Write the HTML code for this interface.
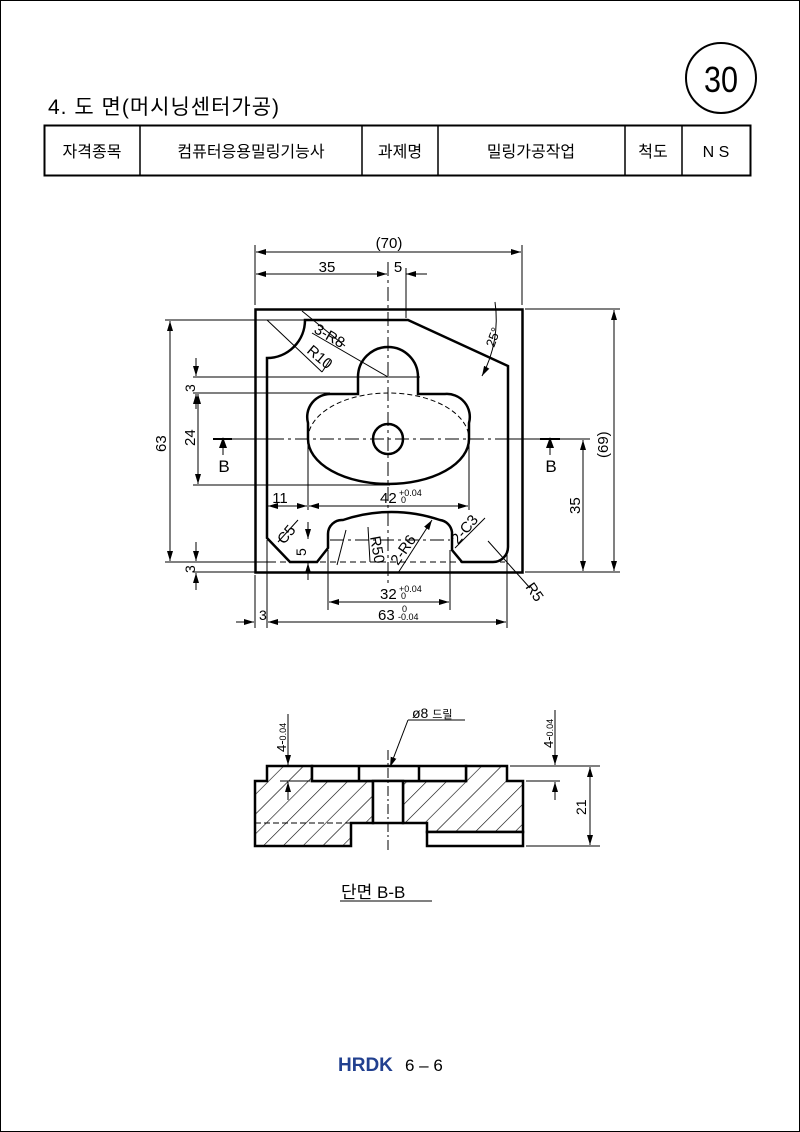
<!DOCTYPE html>
<html><head><meta charset="utf-8"><style>
html,body{margin:0;padding:0;background:#fff}
svg{display:block}
text{font-family:"Liberation Sans","Noto Sans CJK KR",sans-serif;fill:#000}
</style></head><body>
<svg width="800" height="1132" viewBox="0 0 800 1132" xmlns="http://www.w3.org/2000/svg">
<defs>
<pattern id="h" patternUnits="userSpaceOnUse" width="14" height="14" patternTransform="rotate(45)">
<line x1="0" y1="0" x2="0" y2="14" stroke="#000" stroke-width="1.2"/></pattern>
<marker id="a" markerWidth="10" markerHeight="6" refX="10" refY="3" orient="auto-start-reverse" markerUnits="userSpaceOnUse"><path d="M0,0 L10,3 L0,6z" fill="#000"/></marker>
</defs>
<rect x="0.5" y="0.5" width="799" height="1131" fill="none" stroke="#000" stroke-width="1"/>
<!-- header -->
<circle cx="721" cy="78" r="35" fill="none" stroke="#000" stroke-width="2"/>
<text x="721" y="92" font-size="36" text-anchor="middle" transform="translate(721,0) scale(0.85,1) translate(-721,0)">30</text>
<text x="48" y="114" font-size="21" letter-spacing="1">4. 도 면(머시닝센터가공)</text>
<rect x="44.5" y="125.5" width="706" height="50" fill="none" stroke="#000" stroke-width="2"/>
<g stroke="#000" stroke-width="1.5"><line x1="140" y1="125" x2="140" y2="176"/><line x1="362" y1="125" x2="362" y2="176"/><line x1="438" y1="125" x2="438" y2="176"/><line x1="625" y1="125" x2="625" y2="176"/><line x1="682" y1="125" x2="682" y2="176"/></g>
<g font-size="16" text-anchor="middle"><text x="92" y="157">자격종목</text><text x="251" y="157">컴퓨터응용밀링기능사</text><text x="400" y="157">과제명</text><text x="531" y="157">밀링가공작업</text><text x="653" y="157">척도</text><text x="716" y="157">N S</text></g>

<!-- plan view -->
<g fill="none" stroke="#000">
<rect x="255.5" y="309.5" width="267" height="263" stroke-width="2.5"/>
<path d="M267,538 L267,358 A38,38 0 0 0 305,320 L408,320 L508,366 L508,547 A15,15 0 0 1 493,562 L462,562 L452,550 L452,532 A14,14 0 0 0 440,520 A150,150 0 0 0 343,520 A14,14 0 0 0 328,534 L328,548 L317,562 L290,562 Z" stroke-width="2.5"/>
<path d="M308,439 L308,423 A23,23 0 0 1 331,394 L358,394 L358,377 A30,30 0 0 1 418,377 L418,394 L445,394 A23,23 0 0 1 469,423 L469,439 A80.5,45 0 0 1 308,439" stroke-width="2.5"/>
<path d="M308,439 A80.5,46 0 0 1 469,439" stroke-width="1" stroke-dasharray="5,3"/>
<circle cx="388" cy="439" r="15" stroke-width="2.5"/>
<g stroke-width="1" stroke-dasharray="14,4,3,4">
<line x1="388" y1="262" x2="388" y2="585"/>
<line x1="270" y1="439" x2="505" y2="439"/>
<line x1="330" y1="540" x2="450" y2="540"/>
</g>
<line x1="270" y1="562" x2="505" y2="562" stroke-width="1" stroke-dasharray="6,4"/>
<g stroke-width="1">
<line x1="215" y1="439" x2="270" y2="439"/><line x1="505" y1="439" x2="562" y2="439"/>
<line x1="255" y1="245" x2="255" y2="305"/><line x1="522" y1="245" x2="522" y2="305"/>
<line x1="256" y1="252" x2="521" y2="252" marker-start="url(#a)" marker-end="url(#a)"/>
<line x1="256" y1="274" x2="387" y2="274" marker-start="url(#a)" marker-end="url(#a)"/>
<line x1="406" y1="268" x2="406" y2="318"/>
<line x1="406" y1="274" x2="427" y2="274" marker-start="url(#a)"/>
<line x1="525" y1="309" x2="620" y2="309"/><line x1="525" y1="572" x2="620" y2="572"/>
<line x1="614" y1="310" x2="614" y2="571" marker-start="url(#a)" marker-end="url(#a)"/>
<line x1="560" y1="439" x2="590" y2="439"/>
<line x1="583" y1="440" x2="583" y2="571" marker-start="url(#a)" marker-end="url(#a)"/>
<line x1="165" y1="320" x2="380" y2="320"/><line x1="165" y1="562" x2="270" y2="562"/>
<line x1="170" y1="321" x2="170" y2="561" marker-start="url(#a)" marker-end="url(#a)"/>
<line x1="193" y1="377" x2="420" y2="377"/><line x1="193" y1="393" x2="330" y2="393"/>
<line x1="196" y1="358" x2="196" y2="376" marker-end="url(#a)"/><line x1="196" y1="409" x2="196" y2="394" marker-end="url(#a)"/>
<line x1="193" y1="485" x2="390" y2="485"/>
<line x1="198" y1="394" x2="198" y2="484" marker-start="url(#a)" marker-end="url(#a)"/>
<line x1="196" y1="542" x2="196" y2="561" marker-end="url(#a)"/><line x1="196" y1="590" x2="196" y2="573" marker-end="url(#a)"/>
<line x1="193" y1="572" x2="255" y2="572"/>
<line x1="308" y1="440" x2="308" y2="510"/><line x1="469" y1="440" x2="469" y2="510"/>
<line x1="268" y1="506" x2="307" y2="506" marker-start="url(#a)" marker-end="url(#a)"/>
<line x1="309" y1="506" x2="468" y2="506" marker-start="url(#a)" marker-end="url(#a)"/>
<line x1="328" y1="550" x2="328" y2="610"/><line x1="450" y1="550" x2="450" y2="610"/>
<line x1="329" y1="602" x2="449" y2="602" marker-start="url(#a)" marker-end="url(#a)"/>
<line x1="255" y1="575" x2="255" y2="628"/><line x1="267" y1="540" x2="267" y2="628"/><line x1="507" y1="550" x2="507" y2="628"/>
<line x1="268" y1="622" x2="506" y2="622" marker-start="url(#a)" marker-end="url(#a)"/>
<line x1="236" y1="622" x2="254" y2="622" marker-end="url(#a)"/>
<line x1="308" y1="522" x2="308" y2="539" marker-end="url(#a)"/><line x1="308" y1="580" x2="308" y2="563" marker-end="url(#a)"/>
<line x1="267" y1="320" x2="322" y2="372"/><line x1="322" y1="372" x2="330" y2="360"/>
<line x1="312" y1="333" x2="388" y2="377"/>
<line x1="302" y1="311" x2="345" y2="346"/>
<line x1="337" y1="565" x2="346" y2="530"/>
<line x1="278" y1="542" x2="298" y2="520"/>
<line x1="398" y1="573" x2="432" y2="520" marker-end="url(#a)"/>
<line x1="455" y1="548" x2="485" y2="518"/>
<line x1="488" y1="541" x2="530" y2="588"/>
<line x1="368" y1="527" x2="370" y2="562"/>
<path d="M495,302 A120,120 0 0 1 482,376" marker-end="url(#a)"/>
<line x1="213" y1="439" x2="232" y2="439" stroke-width="2"/><line x1="540" y1="439" x2="560" y2="439" stroke-width="2"/>
</g>
</g>
<path d="M223,437 L219,448 L227,448Z M550,437 L546,448 L554,448Z" fill="#000"/>
<line x1="223" y1="448" x2="223" y2="455" stroke="#000"/><line x1="550" y1="448" x2="550" y2="455" stroke="#000"/>
<g font-size="15">
<text x="389" y="248" text-anchor="middle">(70)</text>
<text x="327" y="272" text-anchor="middle">35</text>
<text x="398" y="272" text-anchor="middle">5</text>
<text x="224" y="472" text-anchor="middle" font-size="17">B</text><text x="551" y="472" text-anchor="middle" font-size="17">B</text>
<text x="280" y="503" text-anchor="middle">11</text>
<text x="380" y="503">42</text><text x="399" y="496" font-size="9">+0.04</text><text x="401" y="503" font-size="9">0</text>
<text x="380" y="599">32</text><text x="399" y="592" font-size="9">+0.04</text><text x="401" y="599" font-size="9">0</text>
<text x="378" y="620">63</text><text x="398" y="620" font-size="9">-0.04</text><text x="402" y="612" font-size="9">0</text>
<text x="259" y="620" font-size="14">3</text>
<text transform="translate(166,452) rotate(-90)">63</text>
<text transform="translate(195,446) rotate(-90)">24</text>
<text transform="translate(195,392) rotate(-90)" font-size="14">3</text>
<text transform="translate(195,573) rotate(-90)" font-size="14">3</text>
<text transform="translate(608,458) rotate(-90)">(69)</text>
<text transform="translate(580,514) rotate(-90)">35</text>
<text transform="translate(306,556) rotate(-90)" font-size="14">5</text>
<text transform="translate(313,332) rotate(30)">3-R8</text>
<text transform="translate(306,352) rotate(40)">R10</text>
<text transform="translate(494,348) rotate(-70)" font-size="13">25°</text>
<text transform="translate(284,545) rotate(-50)">C5</text>
<text transform="translate(370,537) rotate(80)">R50</text>
<text transform="translate(398,566) rotate(-55)">2-R6</text>
<text transform="translate(458,545) rotate(-50)">2-C3</text>
<text transform="translate(525,587) rotate(55)">R5</text>
</g>

<!-- section -->
<g stroke="#000" stroke-width="2.5">
<path d="M267,766 L312,766 L312,781 L373,781 L373,823 L351,823 L351,846 L255,846 L255,781 L267,781Z" fill="url(#h)"/>
<path d="M403,781 L466,781 L466,766 L507,766 L507,781 L523,781 L523,832 L427,832 L427,823 L403,823Z" fill="url(#h)"/>
<rect x="312" y="766" width="154" height="15" fill="#fff"/>
<line x1="359" y1="766" x2="359" y2="781"/><line x1="419" y1="766" x2="419" y2="781"/>
<rect x="427" y="832" width="96" height="14" fill="#fff"/>
<rect x="373" y="781" width="30" height="42" fill="#fff"/>
</g>
<g stroke="#000" stroke-width="1" fill="none">
<line x1="255" y1="823" x2="351" y2="823" stroke-dasharray="6,3"/>
<line x1="388" y1="750" x2="388" y2="852" stroke-dasharray="10,3,2,3"/>
<line x1="390" y1="767" x2="408" y2="720" marker-start="url(#a)"/><line x1="408" y1="720" x2="465" y2="720"/>
<line x1="288" y1="714" x2="288" y2="765" marker-end="url(#a)"/><line x1="288" y1="800" x2="288" y2="782" marker-end="url(#a)"/>
<line x1="280" y1="781" x2="310" y2="781"/>
<line x1="555" y1="710" x2="555" y2="765" marker-end="url(#a)"/><line x1="555" y1="800" x2="555" y2="782" marker-end="url(#a)"/>
<line x1="510" y1="766" x2="600" y2="766"/><line x1="526" y1="781" x2="560" y2="781"/><line x1="526" y1="846" x2="600" y2="846"/>
<line x1="590" y1="767" x2="590" y2="845" marker-start="url(#a)" marker-end="url(#a)"/>
<line x1="340" y1="901" x2="432" y2="901"/>
</g>
<g font-size="14">
<text x="412" y="718">ø8 <tspan font-size="11">드릴</tspan></text>
<text transform="translate(286,752) rotate(-90)" font-size="13">4-<tspan font-size="9">0.04</tspan></text>
<text transform="translate(553,748) rotate(-90)" font-size="13">4-<tspan font-size="9">0.04</tspan></text>
<text transform="translate(586,815) rotate(-90)">21</text>
<text x="341" y="898" font-size="17">단면 B-B</text>
</g>
<text x="338" y="1071" font-size="19" font-weight="bold" style="fill:#22408f">HRDK</text>
<text x="405" y="1071" font-size="17">6  –  6</text>
</svg>
</body></html>
